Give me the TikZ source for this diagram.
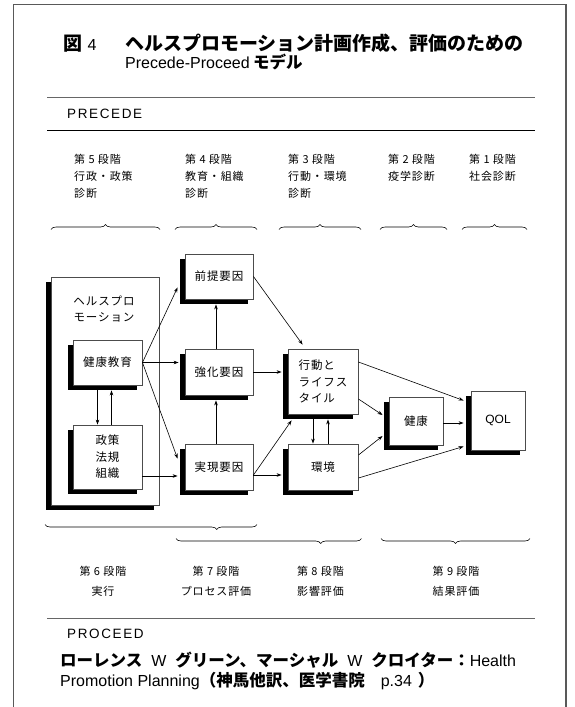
\documentclass[tikz,border=0pt]{standalone}
\usepackage{fontspec}
\setmainfont{Liberation Sans}
\newfontfamily\jp[LetterSpace=8]{Noto Sans CJK JP}
\newfontfamily\jpn{Noto Sans CJK JP}
\newfontfamily\lats[LetterSpace=12]{Liberation Sans}
\newcommand\jbx[1]{{\jpn\bfseries #1}}
\usetikzlibrary{arrows.meta,shadows,calc,decorations.pathreplacing}
\begin{document}
\begin{tikzpicture}[x=1pt,y=-1pt,
  sbox/.style={draw=black!70, line width=0.9pt, fill=white, inner sep=0pt, align=center,
     drop shadow={shadow xshift=-5pt, shadow yshift=-5pt, opacity=1, fill=black},
     font=\jp\fontsize{11.5}{17}\selectfont},
  arr/.style={-{Stealth[length=5pt,width=3.6pt]}, line width=0.6pt},
  brc/.style={decorate, decoration={brace, amplitude=5pt}, line width=0.6pt},
  stg/.style={anchor=north west, align=left, inner sep=0pt, font=\jp\fontsize{11}{17}\selectfont},
  stgb/.style={anchor=north, align=center, inner sep=0pt, font=\jp\fontsize{11}{20}\selectfont},
  rule/.style={line width=1pt}
]
\useasboundingbox (0,0) rectangle (574,707);
% frame
\draw[line width=1.3pt, black!65] (13.5,707) -- (13.5,4.5) -- (566,4.5) -- (566,707);
% title
\node[anchor=base west, inner sep=0pt, font=\jpn\bfseries\fontsize{19}{20}\selectfont] (zu) at (63,50) {図};
\node[anchor=base west, inner sep=0pt, font=\fontsize{16}{18}\selectfont] (n4) at (87.5,50) {4};
\node[anchor=base west, inner sep=0pt, font=\jpn\bfseries\fontsize{19}{21}\selectfont] (ttl) at (125,50) {ヘルスプロモーション計画作成、評価のための};
\node[anchor=base west, inner sep=0pt, font=\fontsize{16}{18}\selectfont] (pp) at (125,68) {Precede-Proceed};
\node[anchor=base west, inner sep=0pt, font=\jpn\bfseries\fontsize{16.5}{18}\selectfont] (mdl) at ([xshift=3pt]pp.base east) {モデル};
% rules
\draw[rule, black!60] (47,97) -- (535,97);
\node[anchor=west, inner sep=0pt, font=\lats\fontsize{13.5}{15}\selectfont] (prc) at (67,114) {PRECEDE};
\draw[rule] (47,130) -- (535,130);
% stage labels top
\node[stg] (s5) at (74,154) {第 5 段階\\行政・政策\\診断};
\node[stg] (s4) at (185,154) {第 4 段階\\教育・組織\\診断};
\node[stg] (s3) at (288,154) {第 3 段階\\行動・環境\\診断};
\node[stg] (s2) at (388,154) {第 2 段階\\疫学診断};
\node[stg] (s1) at (469,154) {第 1 段階\\社会診断};
% top braces
\draw[brc] (51,229.5) -- (160,229.5);
\draw[brc] (175,229.5) -- (257,229.5);
\draw[brc] (279,229.5) -- (361,229.5);
\draw[brc] (380,229.5) -- (447,229.5);
\draw[brc] (462,229.5) -- (527,229.5);
% boxes
\node[sbox, minimum width=108pt, minimum height=228pt] (hp) at (105,391) {};
\node[font=\jp\fontsize{11.5}{16}\selectfont, align=center, inner sep=0pt] (hpt) at (104,309) {ヘルスプロ\\モーション};
\node[sbox, minimum width=69pt, minimum height=45pt] (jk) at (107.5,362.5) {健康教育};
\node[sbox, minimum width=69pt, minimum height=64pt, font=\jp\fontsize{11.5}{16.5}\selectfont] (sei) at (107.5,457) {政策\\法規\\組織};
\node[sbox, minimum width=68pt, minimum height=45pt] (zen) at (219,276.5) {前提要因};
\node[sbox, minimum width=68pt, minimum height=46pt] (kyo) at (219,372) {強化要因};
\node[sbox, minimum width=68pt, minimum height=46pt] (jit) at (219,467) {実現要因};
\node[sbox, minimum width=70pt, minimum height=65pt, align=left, font=\jp\fontsize{11.5}{16.5}\selectfont] (kod) at (323,381.5) {行動と\\ライフス\\タイル};
\node[sbox, minimum width=70pt, minimum height=46pt] (kan) at (323,467) {環境};
\node[sbox, minimum width=54pt, minimum height=48pt] (ken) at (416,421) {健康};
\node[sbox, minimum width=54pt, minimum height=59pt, font=\fontsize{12}{14}\selectfont] (qol) at (498,420.5) {QOL};
% arrows
\draw[arr] (jk.east) -- ($(zen.south west)+(-7,-12)$);
\draw[arr] (jk.east) -- ($(jk.east -| kyo.west)+(-6,0)$);
\draw[arr] (jk.east) -- ($(jit.north west)+(-7,15)$);
\draw[arr] ($(sei.east)+(0,19)$) -- ($(jit.west)+(-7,9)$);
\draw[arr] ($(jk.south)+(-10,5)$) -- ($(sei.north)+(-10,0)$);
\draw[arr] ($(sei.north)+(4,0)$) -- ($(jk.south)+(4,5)$);
\draw[arr] ($(kyo.north)+(-3,0)$) -- ($(zen.south)+(-3,5)$);
\draw[arr] ($(jit.north)+(-3,0)$) -- ($(kyo.south)+(-3,5)$);
\draw[arr] (kyo.east) -- ($(kyo.east -| kod.west)+(-6,0)$);
\draw[arr] ($(jit.east)+(0,8)$) -- ($(kod.south west)+(4,6)$);
\draw[arr] ($(jit.east)+(0,8)$) -- ($(kan.west)+(-6,8)$);
\draw[arr] (zen.east) -- ($(kod.north west)+(15,-4)$);
\draw[arr] ($(kod.south)+(-10,5)$) -- ($(kan.north)+(-10,0)$);
\draw[arr] ($(kan.north)+(5,0)$) -- ($(kod.south)+(5,5)$);
\draw[arr] ($(kod.east)+(0,-19.5)$) -- ($(qol.west)+(-7,-20)$);
\draw[arr] ($(kod.east)+(0,17.5)$) -- ($(ken.west)+(-6,-6)$);
\draw[arr] ($(kan.east)+(0,-12)$) -- ($(ken.west)+(-6,15)$);
\draw[arr] ($(kan.east)+(0,11)$) -- ($(qol.west)+(-7,26)$);
\draw[arr] ($(ken.east)+(0,2)$) -- ($(ken.east -| qol.west)+(-7,2)$);
% bottom braces
\draw[brc, decoration={brace, amplitude=5pt, aspect=0.19}] (257,524.5) -- (45,524.5);
\draw[brc, decoration={brace, amplitude=5pt, aspect=0.22}] (361.5,538.5) -- (176,538.5);
\draw[brc] (530,538.5) -- (381,538.5);
% bottom stage labels
\node[stgb] (s6) at (103,565.5) {第 6 段階\\実行};
\node[stgb] (s7) at (216,565.5) {第 7 段階\\プロセス評価};
\node[stgb] (s8) at (320.5,565.5) {第 8 段階\\影響評価};
\node[stgb] (s9) at (456,565.5) {第 9 段階\\結果評価};
% bottom
\draw[rule, black!60] (47,618) -- (535,618);
\node[anchor=west, inner sep=0pt, font=\lats\fontsize{13.5}{15}\selectfont] (pcd) at (67,634) {PROCEED};
\node[anchor=base west, inner sep=0pt, font=\fontsize{16}{20}\selectfont] (au1) at (60,666) {\jbx{\fontsize{16.5}{20}\selectfont ローレンス}\hspace{9pt}W\hspace{9pt}\jbx{\fontsize{16.5}{20}\selectfont グリーン、マーシャル}\hspace{9pt}W\hspace{9pt}\jbx{\fontsize{16.5}{20}\selectfont クロイター：}Health};
\node[anchor=base west, inner sep=0pt, font=\fontsize{16}{20}\selectfont] (au2) at (60,686) {Promotion Planning\jbx{\fontsize{16.5}{20}\selectfont （神馬他訳、医学書院}\hspace{16pt}p.34\hspace{6pt}\jbx{\fontsize{16.5}{20}\selectfont ）}};
\end{tikzpicture}
\end{document}
